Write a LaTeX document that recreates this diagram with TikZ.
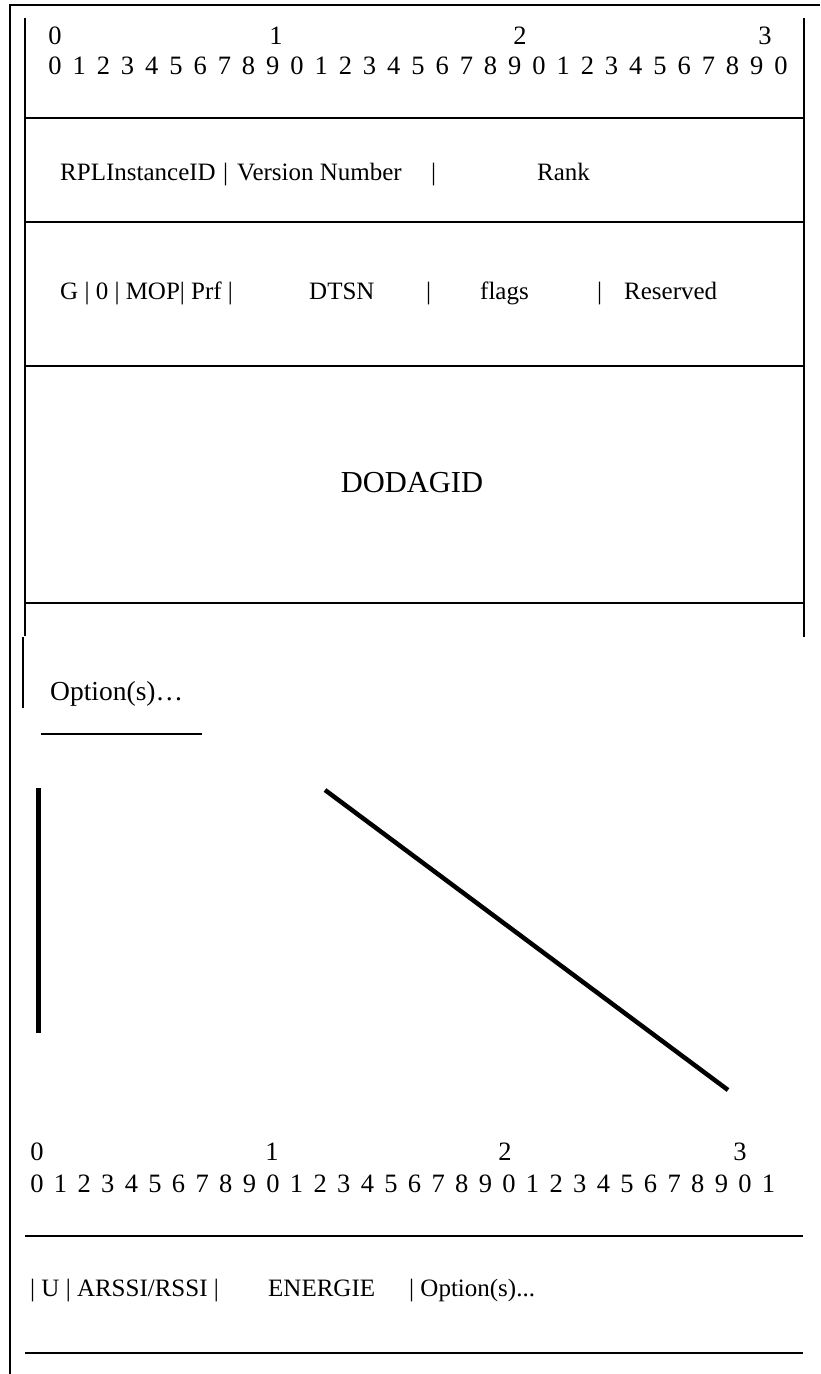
\documentclass[tikz,border=0pt]{standalone}
\usepackage{fontspec}
\setmainfont{Liberation Serif}
\begin{document}
\begin{tikzpicture}[x=1pt,y=-1pt,
  frame/.style={line width=1.6pt},
  dig/.style={inner sep=0pt,anchor=base,font=\fontsize{26.5}{30}\selectfont},
  rowtxt/.style={inner sep=0pt,anchor=base west,font=\fontsize{25}{29}\selectfont},
  bigtxt/.style={inner sep=0pt,anchor=base,font=\fontsize{30.5}{34}\selectfont},
  opttxt/.style={inner sep=0pt,anchor=base west,font=\fontsize{27.5}{31}\selectfont}]
\useasboundingbox[fill=white] (0,0) rectangle (820,1374);
% outer frame
\draw[frame] (10,1374) -- (10,5) -- (820,5);
% inner box
\draw[frame] (25,18) -- (25,636);
\draw[frame] (23,637) -- (23,708);
\draw[frame] (804,18) -- (804,637);
\foreach \y in {118,222,366,603} \draw[frame] (25,\y) -- (804,\y);
\draw[frame] (41,734) -- (202,734);
% thick strokes
\draw[line width=5pt] (38,788) -- (38,1033);
\draw[line width=4.5pt] (325,790) -- (728,1090);
% bottom lines
\draw[frame] (25,1236) -- (803,1236);
\draw[frame] (25,1353) -- (803,1353);
% top ruler
\node[dig] (tl0) at (55,44) {0};
\node[dig] (tl1) at (276,44) {1};
\node[dig] (tl2) at (520,44) {2};
\node[dig] (tl3) at (765,44) {3};
\foreach \i in {0,...,30}{
  \pgfmathtruncatemacro\d{mod(\i,10)}
  \node[dig] (t\i) at ({55+24.2*\i},74) {\d};
}
% row 1
\node[rowtxt] (r1a) at (60,180) {RPLInstanceID};
\node[rowtxt] (r1b) at (223,180) {|};
\node[rowtxt] (r1c) at (237,180) {Version Number};
\node[rowtxt] (r1d) at (431,180) {|};
\node[rowtxt] (r1e) at (537,180) {Rank};
% row 2
\node[rowtxt] (r2a) at (60,299) {G | 0 | MOP| Prf |};
\node[rowtxt] (r2b) at (309,299) {DTSN};
\node[rowtxt] (r2c) at (426,299) {|};
\node[rowtxt] (r2d) at (480,299) {flags};
\node[rowtxt] (r2e) at (597,299) {|};
\node[rowtxt] (r2f) at (624,299) {Reserved};
% DODAGID
\node[bigtxt] (dod) at (412,492) {DODAGID};
% options
\node[opttxt] (opt) at (50,700) {Option(s)…};
% bottom ruler
\node[dig] (bl0) at (37,1160) {0};
\node[dig] (bl1) at (272,1160) {1};
\node[dig] (bl2) at (505,1160) {2};
\node[dig] (bl3) at (740,1160) {3};
\foreach \i in {0,...,31}{
  \pgfmathtruncatemacro\d{mod(\i,10)}
  \node[dig] (b\i) at ({37+23.6*\i},1192) {\d};
}
% bottom row
\node[rowtxt] (u1) at (30,1296) {| U | ARSSI/RSSI |};
\node[rowtxt] (u2) at (268,1296) {ENERGIE};
\node[rowtxt] (u3) at (409,1296) {| Option(s)...};
\end{tikzpicture}
\end{document}
